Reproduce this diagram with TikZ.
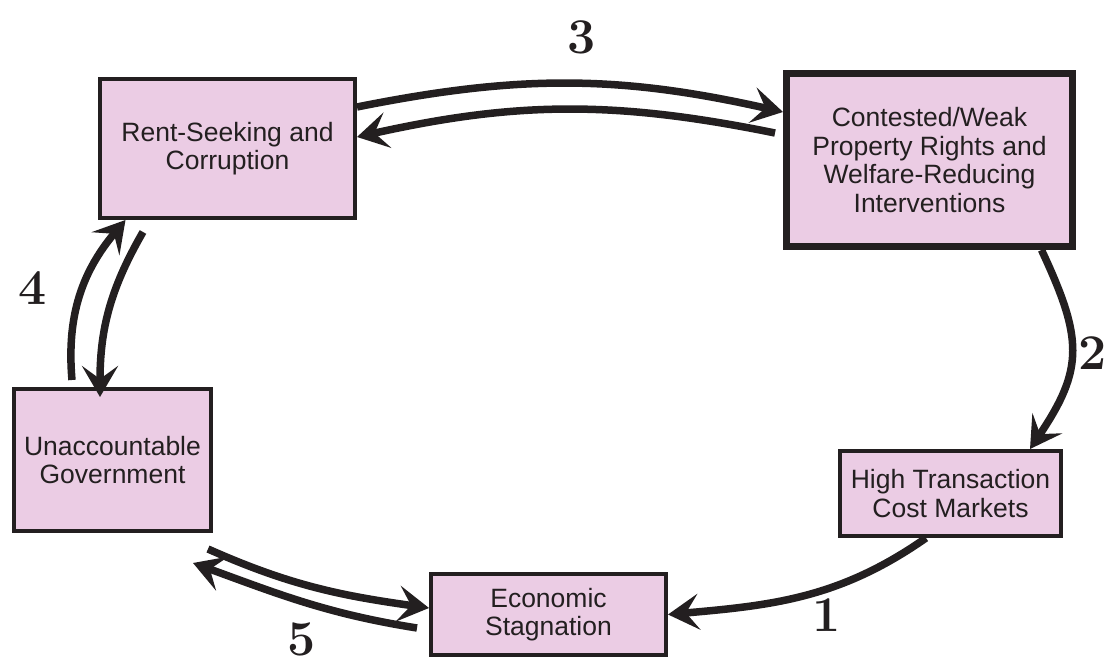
\documentclass[tikz,border=0pt]{standalone}
\usepackage{fontspec}
\newfontfamily\boxfont{Liberation Sans}
\usetikzlibrary{arrows.meta}
\definecolor{boxpink}{RGB}{235,204,228}
\definecolor{ink}{RGB}{35,31,32}
\tikzset{box/.style = {draw=ink, fill=boxpink, line width=4pt, align=center, text=ink,
                       font=\boxfont\fontsize{26.5}{28.5}\selectfont, inner sep=0pt},
         flow/.style = {ink, line width=7.5pt,
                        -{Stealth[length=31pt, width=36pt, inset=13pt]}},
         num/.style = {ink, font=\bfseries\fontsize{50}{50}\selectfont, inner sep=0pt}}

\begin{document}
\begin{tikzpicture}[x=1pt, y=1pt]
      \useasboundingbox (0, 0) rectangle (1110, 664);

      \node [box, minimum width=255pt, minimum height=139pt] (rent) at (227.5, 515.5)
        {Rent-Seeking and\\Corruption};
      \node [box, line width=7pt, minimum width=286pt, minimum height=173pt] (contested) at (929.5, 504)
        {Contested/Weak\\Property Rights and\\Welfare-Reducing\\Interventions};
      \node [box, minimum width=221pt, minimum height=85pt] (hightc) at (950.5, 170.5)
        {High Transaction\\Cost Markets};
      \node [box, minimum width=235pt, minimum height=81pt] (econ) at (548.5, 49.5)
        {Economic\\Stagnation};
      \node [box, minimum width=197pt, minimum height=142pt] (unacc) at (112.5, 204)
        {Unaccountable\\Government};

      % 3
      \draw [flow] ([yshift=41.5pt]rent.east) to [bend left=12] ([yshift=48pt]contested.west);
      \draw [flow] ([shift={(-8pt,27pt)}]contested.west) to [bend right=12] ([yshift=11.5pt]rent.east);
      % 2 and 1
      \draw [flow] ([xshift=112pt]contested.south) to [out=-65, in=56, looseness=1.25] ([xshift=79.5pt]hightc.north);
      \draw [flow] ([xshift=-24.5pt]hightc.south) to [out=-145, in=5] (econ.east);
      % 5
      \draw [flow] ([shift={(95.5pt,-16pt)}]unacc.south) to [out=-24, in=172] ([yshift=6.5pt]econ.west);
      \draw [flow] ([shift={(-12pt,-13.5pt)}]econ.west) to [out=171, in=-20] ([shift={(80.5pt,-30pt)}]unacc.south);
      % 4
      \draw [flow] ([shift={(-40.5pt,7pt)}]unacc.north) to [out=95, in=-130] ([xshift=-102pt]rent.south);
      \draw [flow] ([shift={(-84.5pt,-12pt)}]rent.south) to [out=-120, in=90] ([shift={(-12.5pt,-10pt)}]unacc.north);

      \foreach \n/\x/\y in {1/827/49, 2/1093/311, 3/582/627, 4/33/376, 5/302/25} {
        \node [num] (num\n) at (\x, \y) {\n};
      };
    \end{tikzpicture}
\end{document}
